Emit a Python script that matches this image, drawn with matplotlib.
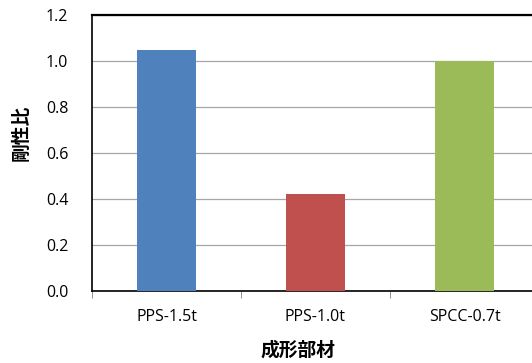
import matplotlib.pyplot as plt
import numpy as np

plt.rcParams['font.family'] = ['Open Sans', 'Noto Sans CJK JP', 'DejaVu Sans']

# 성형 부재별 강성비
members = ['PPS-1.5t', 'PPS-1.0t', 'SPCC-0.7t']
ratio = [1.05, 0.42, 1.00]
colors = ['#4F81BD', '#C0504D', '#9BBB59']

fig = plt.figure(figsize=(5.32, 3.63), dpi=100)
ax = fig.add_axes([92 / 532, 72 / 363, 447 / 532, 276 / 363])

x = np.arange(len(members))
ax.bar(x, ratio, width=0.4, color=colors, zorder=3)

ax.set_xlim(-0.5, 2.5)
ax.set_ylim(0, 1.2)
ax.set_yticks(np.arange(0, 1.21, 0.2))
ax.set_yticklabels([f'{v:.1f}' for v in np.arange(0, 1.21, 0.2)], fontsize=11.5)
ax.yaxis.grid(True, color='#a6a6a6', linewidth=0.9, zorder=0)

ax.set_xticks(x)
ax.set_xticklabels(members, fontsize=11.5)
ax.set_xticks([-0.5, 0.5, 1.5, 2.5], minor=True)
ax.tick_params(axis='x', which='major', length=0, pad=13)
ax.tick_params(axis='x', which='minor', length=5, color='#808080')
ax.tick_params(axis='y', length=0, pad=17)

for side in ['top', 'left', 'bottom']:
    ax.spines[side].set_color('black')
ax.spines['top'].set_linewidth(1.6)
ax.spines['left'].set_linewidth(1.2)
ax.spines['bottom'].set_linewidth(1.2)
ax.spines['right'].set_visible(False)

fig.text(21 / 532, 1 - 133 / 363, '剛性比', rotation=90, ha='center', va='center',
         fontsize=13.5, fontweight='bold', family=['Noto Sans CJK JP'])
fig.text(298 / 532, 1 - 350 / 363, '成形部材', ha='center', va='center',
         fontsize=13.5, fontweight='bold', family=['Noto Sans CJK JP'])

fig.savefig('out.png', dpi=100)
